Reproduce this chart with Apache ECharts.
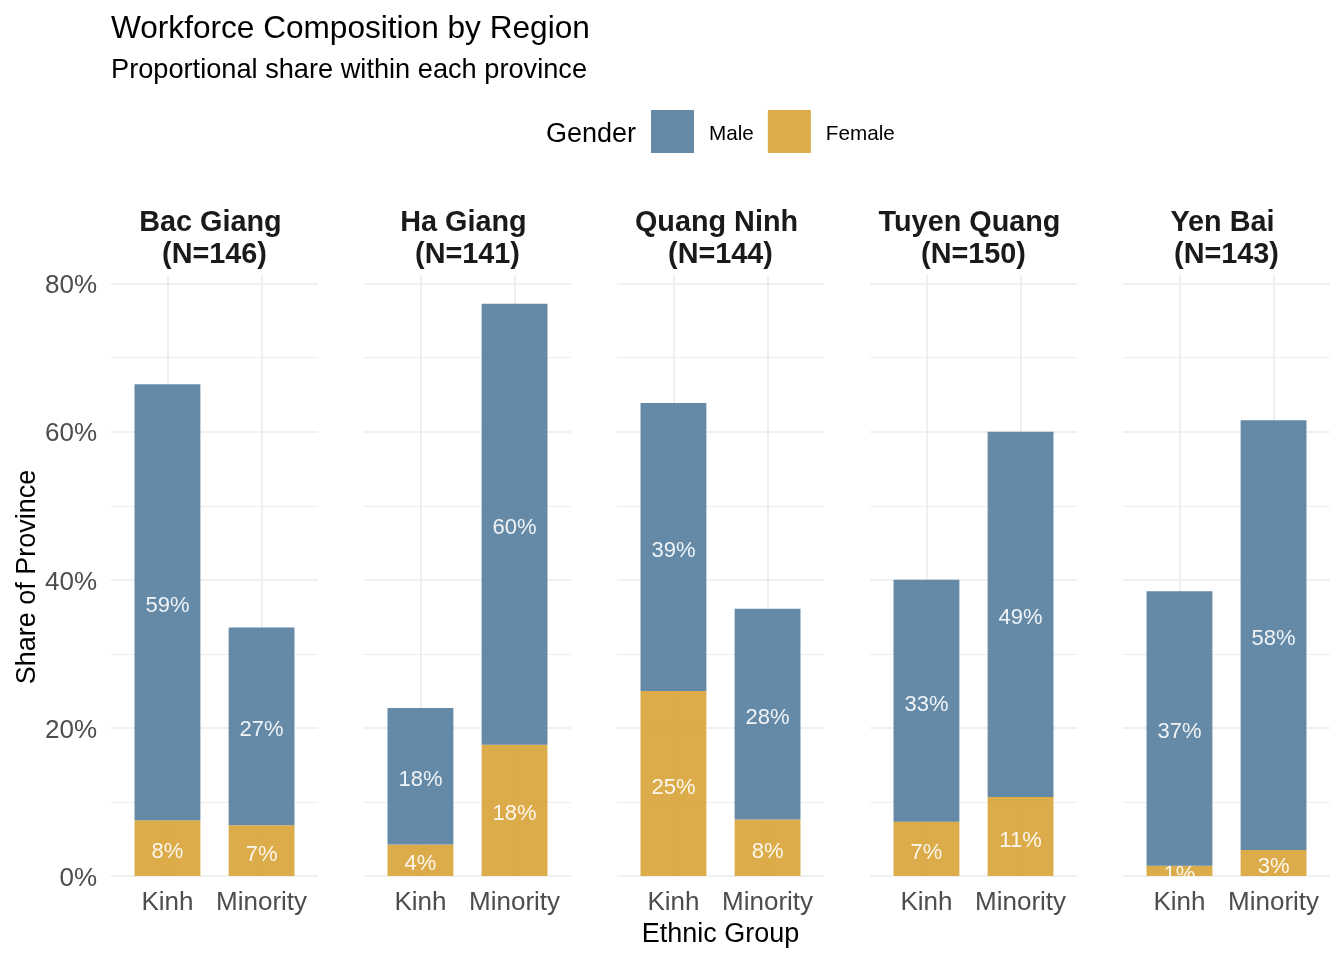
<!DOCTYPE html>
<html>
<head>
<meta charset="utf-8">
<script src="https://cdn.jsdelivr.net/npm/echarts@6/dist/echarts.min.js"></script>
<style>
  html, body { margin: 0; padding: 0; background: #ffffff; }
  #chart { width: 1344px; height: 960px; }
</style>
</head>
<body>
<div id="chart"></div>
<script>
// ---- Data ----
const provinces = ['Bac Giang', 'Ha Giang', 'Quang Ninh', 'Tuyen Quang', 'Yen Bai'];
const provinceN = [146, 141, 144, 150, 143];
const ethnicGroups = ['Kinh', 'Minority'];
// share of province (%), per province: [Kinh, Minority]
const malePct = [
  [58.90, 26.71],
  [18.44, 59.57],
  [38.89, 28.47],
  [32.67, 49.33],
  [37.06, 58.04]
];
const femalePct = [
  [7.53, 6.85],
  [4.26, 17.73],
  [25.00, 7.64],
  [7.33, 10.67],
  [1.40, 3.497]
];
const yTickValues = [0, 20, 40, 60, 80];
const genderNames = ['Male', 'Female'];

// ---- Layout / style ----
const FONT = '"Liberation Sans", Arial, Helvetica, sans-serif';
const COLORS = { Male: '#547D9D', Female: '#D8A336' };
const GRID_COLOR = '#EBEBEB';
const panelLeft0 = 111, panelStep = 253, panelWidth = 207;
const plotTop = 275, plotBottom = 876;
const yMax = 81.17;
const yTickMax = yTickValues[yTickValues.length - 1];
const bgTop = plotBottom - yTickMax * (plotBottom - plotTop) / yMax;
const band = panelWidth / 2.2;

const grids = [], xAxes = [], yAxes = [], series = [], graphics = [];

provinces.forEach((p, i) => {
  const pl = panelLeft0 + i * panelStep;
  // background grid (horizontal gridlines & y labels)
  grids.push({ left: pl, width: panelWidth, top: bgTop, height: plotBottom - bgTop, containLabel: false });
  // bar grid
  grids.push({ left: pl + 0.1 * band, width: 2 * band, top: plotTop, height: plotBottom - plotTop, containLabel: false });
  const bgIdx = 2 * i, barIdx = 2 * i + 1;

  xAxes.push({ gridIndex: bgIdx, type: 'value', min: 0, max: 1, show: false });
  yAxes.push({
    gridIndex: bgIdx, type: 'value', min: 0, max: yTickMax, interval: 20,
    axisLine: { show: false }, axisTick: { show: false },
    axisLabel: {
      show: i === 0, fontSize: 26, color: '#4D4D4D', fontFamily: FONT, margin: 14,
      verticalAlign: 'top', lineHeight: 5,
      formatter: v => (yTickValues.indexOf(v) >= 0 ? v + '%' : '')
    },
    splitLine: { show: true, lineStyle: { color: GRID_COLOR, width: 1.6 } },
    minorTick: { show: false, splitNumber: 2 },
    minorSplitLine: { show: true, lineStyle: { color: GRID_COLOR, width: 0.9 } }
  });

  xAxes.push({
    gridIndex: barIdx, type: 'category', data: ethnicGroups,
    axisLine: { show: false }, axisTick: { show: false },
    axisLabel: { fontSize: 26, color: '#4D4D4D', fontFamily: FONT, margin: 14, interval: 0 },
    splitLine: { show: false }
  });
  yAxes.push({ gridIndex: barIdx, type: 'value', min: 0, max: yMax, show: false, splitLine: { show: false } });

  const labelCfg = {
    show: true, position: 'inside', color: '#FFFFFF', fontSize: 22, fontFamily: FONT,
    offset: [0, 4],
    formatter: pr => Math.round(pr.value) + '%'
  };
  series.push({
    name: 'Female', type: 'bar', xAxisIndex: barIdx, yAxisIndex: barIdx, stack: 'p' + i,
    data: femalePct[i], barWidth: 0.7 * band,
    itemStyle: { color: COLORS.Female, opacity: 0.9 },
    label: labelCfg, z: 3
  });
  series.push({
    name: 'Male', type: 'bar', xAxisIndex: barIdx, yAxisIndex: barIdx, stack: 'p' + i,
    data: malePct[i], barWidth: 0.7 * band,
    itemStyle: { color: COLORS.Male, opacity: 0.9 },
    label: labelCfg, z: 3,
    markLine: {
      silent: true, symbol: ['none', 'none'], z: 1, animation: false,
      label: { show: false },
      lineStyle: { color: GRID_COLOR, width: 1.6, type: 'solid' },
      emphasis: { disabled: true },
      data: ethnicGroups.map(g => ({ xAxis: g }))
    }
  });

  graphics.push({
    type: 'text', x: pl + panelWidth / 2, y: 239,
    style: {
      text: p + ' \n(N=' + provinceN[i] + ')', textAlign: 'center', textVerticalAlign: 'middle',
      fontSize: 28.8, fontWeight: 'bold', fontFamily: FONT, fill: '#1A1A1A', lineHeight: 32
    }
  });
});

graphics.push({
  type: 'text', x: 546, y: 135,
  style: { text: 'Gender', textAlign: 'left', textVerticalAlign: 'middle', fontSize: 27, fontFamily: FONT, fill: '#000000' }
});
graphics.push({
  type: 'text', x: 720.5, y: 935,
  style: { text: 'Ethnic Group', textAlign: 'center', textVerticalAlign: 'middle', fontSize: 27, fontFamily: FONT, fill: '#000000' }
});
graphics.push({
  type: 'text', x: 28, y: 577, rotation: Math.PI / 2,
  style: { text: 'Share of Province', textAlign: 'center', textVerticalAlign: 'middle', fontSize: 27, fontFamily: FONT, fill: '#000000' }
});

const chart = echarts.init(document.getElementById('chart'), null, { renderer: 'canvas' });
chart.setOption({
  backgroundColor: '#ffffff',
  animation: false,
  title: {
    text: 'Workforce Composition by Region',
    subtext: 'Proportional share within each province',
    left: 111, top: 13, padding: 0, itemGap: 12,
    textStyle: { fontSize: 31.6, fontWeight: 'normal', color: '#000000', fontFamily: FONT },
    subtextStyle: { fontSize: 27.2, color: '#000000', fontFamily: FONT }
  },
  legend: {
    data: genderNames, left: 651, top: 110, padding: 0,
    itemWidth: 43, itemHeight: 43, itemGap: 14, icon: 'rect',
    formatter: name => '{t|' + name + '}',
    textStyle: {
      fontSize: 20.7, color: '#000000', fontFamily: FONT, padding: [0, 0, 0, 10],
      rich: { t: { fontSize: 20.7, color: '#000000', fontFamily: FONT, padding: [5, 0, 0, 0] } }
    },
    selectedMode: false
  },
  grid: grids,
  xAxis: xAxes,
  yAxis: yAxes,
  series: series,
  graphic: graphics
});
</script>
</body>
</html>
